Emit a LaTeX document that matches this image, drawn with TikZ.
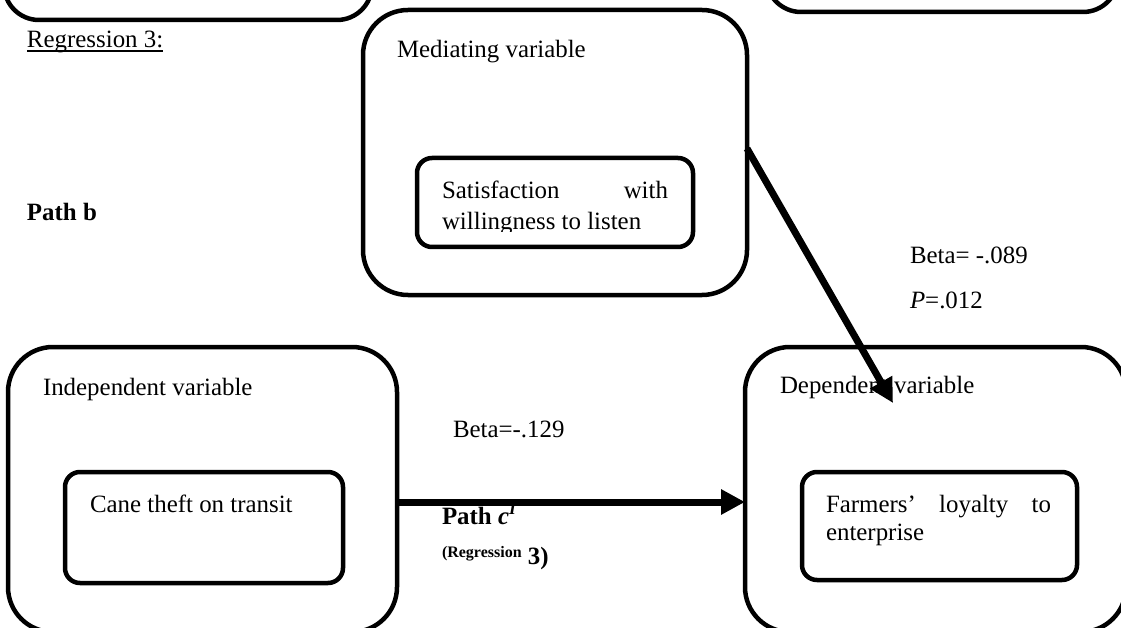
\documentclass[tikz,border=0pt]{standalone}
\usepackage{fontspec}
\setmainfont{Liberation Serif}
\usetikzlibrary{arrows.meta}
\tikzset{
  txt/.style={font=\fontsize{24.9}{29}\selectfont, inner sep=0pt, outer sep=0pt, anchor=base west},
  bigbox/.style={draw, line width=4.5pt, rounded corners=45pt, inner sep=0pt, outer sep=0pt},
  topbox/.style={draw, line width=4.5pt, rounded corners=35pt, inner sep=0pt, outer sep=0pt},
  smallbox/.style={draw, line width=4.5pt, rounded corners=15pt, inner sep=0pt, outer sep=0pt},
  thickarrow/.style={line width=7pt, -{Triangle[length=24pt,width=24pt]}},
}
\begin{document}
\begin{tikzpicture}[x=1pt,y=-1pt]
\useasboundingbox (0,0) rectangle (1121,628);
% partial boxes at the top
\node[topbox, minimum width=368pt, minimum height=100pt] (tl) at (188,-30) {};
\node[topbox, minimum width=352pt, minimum height=92pt] (tr) at (942,-34) {};
% mediating
\node[bigbox, minimum width=384pt, minimum height=285pt] (med) at (555,152.5) {};
\node[smallbox, minimum width=276pt, minimum height=89pt] (medin) at (555,202.5) {};
% independent
\node[bigbox, minimum width=389pt, minimum height=285pt] (ind) at (202.5,489.5) {};
\node[smallbox, minimum width=278pt, minimum height=111pt] (indin) at (204,527.5) {};
% dependent
\node[bigbox, minimum width=381pt, minimum height=285pt] (dep) at (935.5,489.5) {};
\node[smallbox, minimum width=275pt, minimum height=108pt] (depin) at (939.5,526) {};

% texts
\node[txt] (reg) at (27,48) {Regression 3:};
\draw[line width=1.5pt] ([yshift=-3pt]reg.base west) -- ([yshift=-3pt]reg.base east);
\node[txt, font=\fontsize{24.9}{29}\selectfont\bfseries] (pb) at (27,221) {Path b};
\node[txt] (medt) at (397,58) {Mediating variable};
\node[txt] (sat1) at (442,199) {\makebox[226pt][s]{Satisfaction with}};
\begin{scope}
\clip (417,150) rectangle (693,231.5);
\node[txt] (sat2) at (442,230) {willingness to listen};
\end{scope}
\node[txt] (b089) at (910,264) {Beta= -.089};
\node[txt] (p012) at (910,308) {\textit{P}=.012};
\node[txt] (indt) at (43,395) {Independent variable};
\node[txt] (cane) at (90,512) {Cane theft on transit};
\node[txt] (b129) at (453,437) {Beta=-.129};
\node[txt] (pc) at (442,524) {\bfseries Path \textit{c}\textsuperscript{\textit{I}}};
\node[txt] (reg3) at (442,564) {\bfseries\raisebox{7pt}{\fontsize{16}{18}\selectfont (Regression} 3)};
\node[txt] (dept) at (780,393) {Dependent variable};
\node[txt] (far1) at (826,512) {\makebox[225pt][s]{Farmers’ loyalty to}};
\node[txt] (far2) at (826,540) {enterprise};

% arrows
\coordinate (tip) at (893,403);
\draw[thickarrow] ([yshift=4pt]med.east) -- (tip);
\coordinate (hy) at (0,502);
\draw[thickarrow] (ind.east |- hy) -- (dep.west |- hy);
\end{tikzpicture}
\end{document}
